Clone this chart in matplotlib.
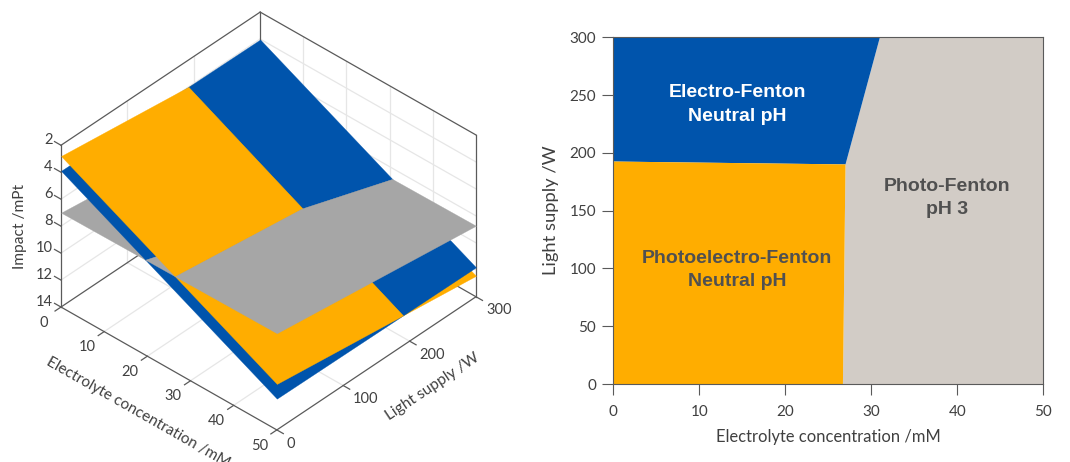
import itertools
import numpy as np
import matplotlib
matplotlib.use('Agg')
import matplotlib.pyplot as plt
from mpl_toolkits.mplot3d import proj3d
from mpl_toolkits.mplot3d.art3d import Poly3DCollection

# corner impacts of the three planes, order (E,L) = (0,0) (50,0) (0,300) (50,300)
corner_E = [0, 50, 0, 50]
corner_L = [0, 0, 300, 300]
impact_blue = [3.98, 11.6, 3.95, 11.9]
impact_orange = [2.85, 10.54, 4.6, 12.5]
impact_grey = [7.0, 6.83, 8.9, 8.73]

# region boundaries of the right panel
ef_E = [0, 27, 31, 0]
ef_L = [192.5, 190, 300, 300]
pef_E = [0, 26.7, 27, 0]
pef_L = [0, 0, 190, 192.5]
pf_E = [26.7, 50, 50, 31, 27]
pf_L = [0, 0, 300, 300, 190]

E_ticks = [0, 10, 20, 30, 40, 50]
L3d_ticks = [0, 100, 200, 300]
Z_ticks = [2, 4, 6, 8, 10, 12, 14]
L_ticks = [0, 50, 100, 150, 200, 250, 300]

BLUE = '#0054ac'
ORANGE = '#ffad00'
SURF_GREY = '#a6a6a6'
REGION_GREY = '#d2ccc6'
TXT = '#404040'
LINE = '#5a5a5a'
GRID = '#e6e6e6'

plt.rcParams['font.family'] = ['Lato', 'DejaVu Sans']

W, H = 1070, 462
fig = plt.figure(figsize=(W / 100, H / 100), dpi=100)


def fit_plane(vals):
    A = np.column_stack([np.ones(4), corner_E, corner_L])
    return np.linalg.lstsq(A, np.array(vals), rcond=None)[0]


def clip(poly, p, q, sign):
    # keep the part of poly where sign*(plane p - plane q) > 0
    d = p - q
    out = []
    for i in range(len(poly)):
        a, b = poly[i], poly[(i + 1) % len(poly)]
        fa = sign * (d[0] + d[1] * a[0] + d[2] * a[1])
        fb = sign * (d[0] + d[1] * b[0] + d[2] * b[1])
        if fa >= 0:
            out.append(a)
        if fa * fb < 0:
            t = fa / (fa - fb)
            out.append((a[0] + t * (b[0] - a[0]), a[1] + t * (b[1] - a[1])))
    return out


ax3 = fig.add_axes([0, 0, 1, 1], projection='3d', proj_type='ortho',
                   computed_zorder=False)
ax3.view_init(elev=38.1, azim=-47.3)
ax3.set_box_aspect((1, 1, 0.7))
ax3.set_xlim(0, 50, view_margin=0)
ax3.set_ylim(0, 300, view_margin=0)
ax3.set_zlim(14, 2, view_margin=0)
ax3.set_axis_off()

# back walls and floor grid
for e in E_ticks[1:-1]:
    ax3.plot([e, e], [300, 300], [2, 14], color=GRID, lw=0.9, zorder=0)
    ax3.plot([e, e], [0, 300], [14, 14], color=GRID, lw=0.9, zorder=0)
for l in L3d_ticks[1:-1]:
    ax3.plot([0, 0], [l, l], [2, 14], color=GRID, lw=0.9, zorder=0)
    ax3.plot([0, 50], [l, l], [14, 14], color=GRID, lw=0.9, zorder=0)
for z in Z_ticks[1:-1]:
    ax3.plot([0, 0], [0, 300], [z, z], color=GRID, lw=0.9, zorder=0)
    ax3.plot([0, 50], [300, 300], [z, z], color=GRID, lw=0.9, zorder=0)

# box outline
box_edges = [
    ([0, 0], [0, 300], [2, 2]), ([0, 50], [300, 300], [2, 2]),
    ([0, 0], [0, 0], [2, 14]), ([50, 50], [300, 300], [2, 14]),
    ([0, 0], [300, 300], [2, 14]),
    ([0, 50], [0, 0], [14, 14]), ([50, 50], [0, 300], [14, 14]),
    ([0, 0], [0, 300], [14, 14]), ([0, 50], [300, 300], [14, 14]),
]
for xs, ys, zs in box_edges:
    ax3.plot(xs, ys, zs, color=LINE, lw=0.9, zorder=0.5)

# the surfaces, lowest impact on top
planes = [fit_plane(impact_blue), fit_plane(impact_orange), fit_plane(impact_grey)]
colors = [BLUE, ORANGE, SURF_GREY]
rect = [(0, 0), (50, 0), (50, 300), (0, 300)]
for i, plane in enumerate(planes):
    others = [planes[j] for j in range(3) if j != i]
    for s1, s2 in itertools.product([1, -1], [1, -1]):
        poly = clip(rect, plane, others[0], s1)
        if len(poly) > 2:
            poly = clip(poly, plane, others[1], s2)
        if len(poly) < 3:
            continue
        verts = [(x, y, plane[0] + plane[1] * x + plane[2] * y) for x, y in poly]
        deep = (s1 > 0) + (s2 > 0)
        ax3.add_collection3d(Poly3DCollection([verts], facecolors=colors[i],
                                              edgecolors=colors[i], linewidths=0.2,
                                              zorder=3 - deep), autolim=False)

# ticks and tick labels
for e in E_ticks:
    ax3.plot([e, e], [0, -9], [14, 14], color=LINE, lw=0.9, zorder=4)
    ax3.text(e, -26, 14.3, str(e), zdir=None, fontsize=10.5, color=TXT, ha='center', va='center')
for l in L3d_ticks:
    ax3.plot([50, 51.5], [l, l], [14, 14], color=LINE, lw=0.9, zorder=4)
    ax3.text(52.3, l, 14.6, str(l), zdir=None, fontsize=10.5, color=TXT, ha='left', va='center')
for z in Z_ticks:
    ax3.plot([0, -1.5], [0, 0], [z, z], color=LINE, lw=0.9, zorder=4)
    ax3.text(-2, 0, z, str(z), zdir=None, fontsize=10.5, color=TXT, ha='right', va='center')

# text direction follows the zdir vector on screen
ax3.text(27, -60, 14.9, 'Electrolyte concentration /mM', zdir=(1, 0, 0), fontsize=11.1,
         color=TXT, ha='center', va='center')
ax3.text(60, 170, 14.6, 'Light supply /W', zdir=(0, 1, 0), fontsize=11.2,
         color=TXT, ha='center', va='center')
ax3.text(-6, -22, 8.4, 'Impact /mPt', zdir=(0, 0, -1), fontsize=11.2,
         color=TXT, ha='center', va='center')

# fit the projected box onto the picture area of the left panel
M = ax3.get_proj()
u1, v1, _ = proj3d.proj_transform(0, 0, 14, M)
u2, v2, _ = proj3d.proj_transform(50, 300, 2, M)
f1 = ax3.transLimits.transform((u1, v1))
f2 = ax3.transLimits.transform((u2, v2))
S = (476 - 61) / (f2[0] - f1[0])
x0 = 61 - S * f1[0]
y0 = ((H - 305) + (H - 133)) / 2 - S * (f1[1] + f2[1]) / 2 - 2
ax3.set_position([x0 / W, y0 / H, S / W, S / H])

# right panel
x_l, x_r, y_t, y_b = 613.3, 1043.3, 37.3, 384
ax = fig.add_axes([x_l / W, 1 - y_b / H, (x_r - x_l) / W, (y_b - y_t) / H])
ax.fill(pf_E, pf_L, color=REGION_GREY, lw=0)
ax.fill(ef_E, ef_L, color=BLUE, lw=0)
ax.fill(pef_E, pef_L, color=ORANGE, lw=0)
ax.set_xlim(0, 50)
ax.set_ylim(0, 300)
ax.set_xticks(E_ticks)
ax.set_yticks(L_ticks)
ax.tick_params(length=8.2, width=0.8, color=LINE, labelcolor=TXT, labelsize=11, pad=4)
ax.tick_params(axis='x', pad=7)
for sp in ax.spines.values():
    sp.set_color(LINE)
    sp.set_linewidth(0.8)
ax.set_xlabel('Electrolyte concentration /mM', fontsize=11.9, color=TXT, labelpad=7)
ax.set_ylabel('Light supply /W', fontsize=13.2, color=TXT, labelpad=8)

bold = dict(family='Liberation Sans', fontweight='bold', fontsize=14, ha='center',
            va='center', linespacing=1.5)
ax.text(14.4, 242, 'Electro-Fenton\nNeutral pH', color='white', **bold)
ax.text(14.4, 98.5, 'Photoelectro-Fenton\nNeutral pH', color='#505050', **bold)
ax.text(38.8, 161, 'Photo-Fenton\npH 3', color='#505050', **bold)

fig.savefig('out.png', dpi=100)
